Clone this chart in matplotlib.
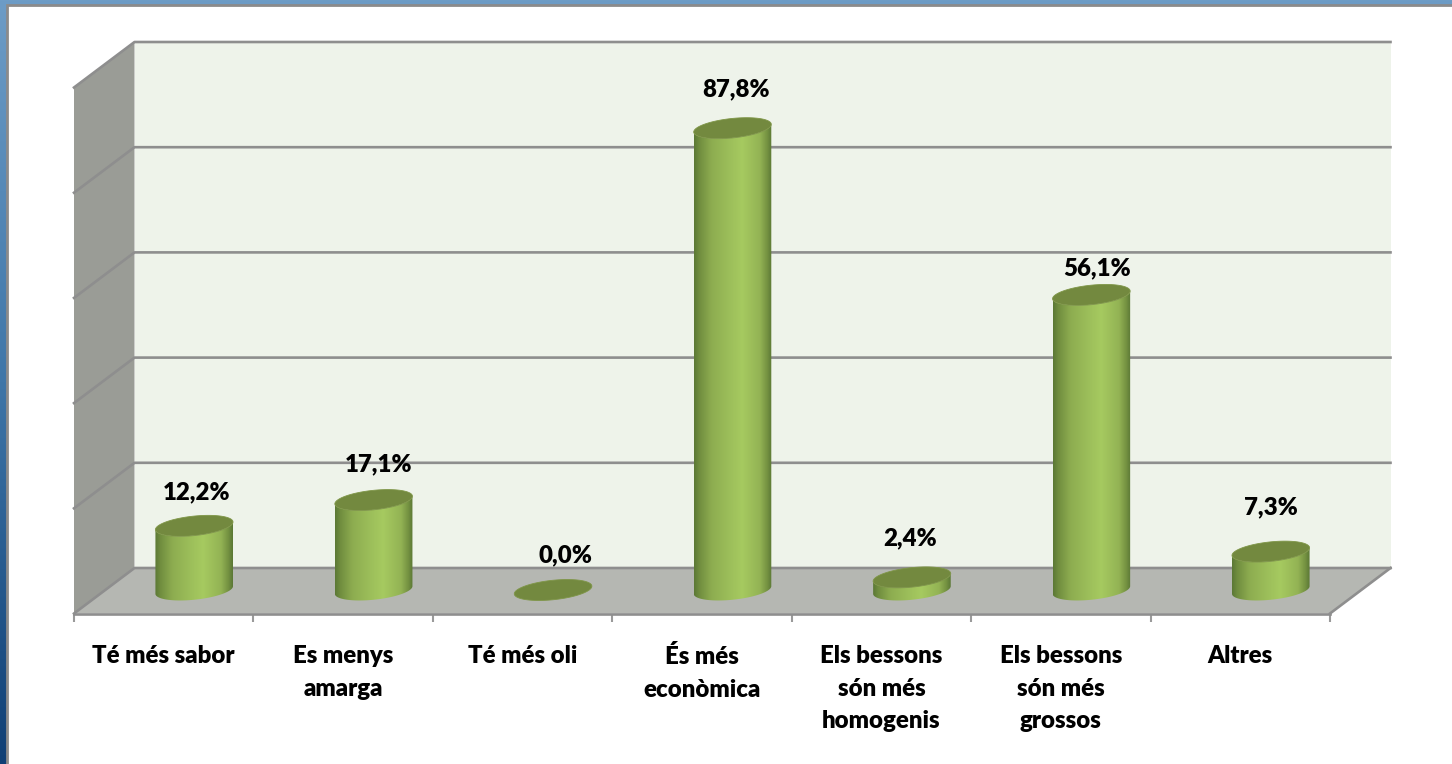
import numpy as np
import matplotlib
matplotlib.use("Agg")
import matplotlib.pyplot as plt
from matplotlib.colors import LinearSegmentedColormap
from matplotlib.patches import PathPatch, Polygon, Rectangle
from matplotlib.path import Path

categories = [
    "Té més sabor",
    "Es menys\namarga",
    "Té més oli",
    "És més\neconòmica",
    "Els bessons\nsón més\nhomogenis",
    "Els bessons\nsón més\ngrossos",
    "Altres",
]
values = [12.2, 17.1, 0.0, 87.8, 2.4, 56.1, 7.3]
grid_values = [0, 20, 40, 60, 80, 100]

# label nudges in pixels, from the top of each cylinder
label_dx = [2, 5, 12, 4, -2, 6, 0]
label_dy = [34, 36, 35, 39, 39, 27, 44]

W, H = 1452, 764
LEFT, RIGHT, FRONT_Y, TOP_Y = 74, 1330, 613.5, 87.5
DEPTH_X, DEPTH_Y = 60.5, 45.5
BASE_X, BASE_Y = 30.5, 23.5

PX_X = (RIGHT - LEFT) / len(categories)
PX_Y = (FRONT_Y - TOP_Y) / 100

fig = plt.figure(figsize=(W / 100, H / 100), dpi=100, facecolor="white")

# window frame behind the chart
bg = fig.add_axes([0, 0, 1, 1])
bg.axis("off")
frame_cmap = LinearSegmentedColormap.from_list(
    "frame", ["#6d9cc6", "#3f76a8", "#0f3f75"]
)
bg.imshow(
    np.linspace(0, 1, 256).reshape(-1, 1),
    extent=(0, W, H, 0),
    cmap=frame_cmap,
    aspect="auto",
)
bg.add_patch(Rectangle((7, 5), W, H, fc="white", ec="#8b8b8b", lw=2))
bg.set_xlim(0, W)
bg.set_ylim(H, 0)

ax = fig.add_axes([
    LEFT / W,
    1 - FRONT_Y / H,
    (RIGHT - LEFT) / W,
    (FRONT_Y - TOP_Y) / H,
])
ax.patch.set_alpha(0)

dx = DEPTH_X / PX_X
dy = DEPTH_Y / PX_Y
n = len(categories)

# 3D box: side wall, back wall, floor
ax.add_patch(Polygon(
    [(0, 0), (dx, dy), (dx, 100 + dy), (0, 100)],
    fc="#9a9c96", ec="none", clip_on=False, zorder=1,
))
ax.add_patch(Polygon(
    [(dx, dy), (n + dx, dy), (n + dx, 100 + dy), (dx, 100 + dy)],
    fc="#eef3ea", ec="none", clip_on=False, zorder=1,
))
ax.add_patch(Polygon(
    [(0, 0), (n, 0), (n + dx, dy), (dx, dy)],
    fc="#b5b7b2", ec="none", clip_on=False, zorder=1,
))

for g in grid_values:
    ax.plot(
        [0, dx, n + dx],
        [g, g + dy, g + dy],
        color="#8e8e8e",
        lw=1.9,
        clip_on=False,
        zorder=2,
    )
ax.plot([n, n + dx], [0, dy], color="#8e8e8e", lw=1.9, clip_on=False, zorder=2)

side_cmap = LinearSegmentedColormap.from_list(
    "side",
    [
        (0.0, "#5b7835"),
        (0.06, "#6f8c3e"),
        (0.22, "#8dac50"),
        (0.45, "#9cbe5a"),
        (0.62, "#a6ca60"),
        (0.85, "#93b354"),
        (0.95, "#728f40"),
        (1.0, "#5b7835"),
    ],
)

RX, RY, TILT = 39.0, 9.7, np.deg2rad(6)


def ellipse_px(t):
    x = RX * np.cos(t) * np.cos(TILT) - RY * np.sin(t) * np.sin(TILT)
    y = RX * np.cos(t) * np.sin(TILT) + RY * np.sin(t) * np.cos(TILT)
    return x, y


def draw_cylinder(pos, value):
    xc = pos + 0.5 + BASE_X / PX_X
    y0 = BASE_Y / PX_Y
    t = np.linspace(0, 2 * np.pi, 121)
    ex, ey = ellipse_px(t)
    ex = xc + ex / PX_X
    ey = ey / PX_Y

    # silhouette of the side runs between the left and right extremes
    i_r = np.argmax(ex)
    i_l = np.argmin(ex)
    chord = np.interp(ex, [ex[i_l], ex[i_r]], [ey[i_l], ey[i_r]])
    lower = np.where(ey <= chord)[0]
    lower = lower[np.argsort(ex[lower])]
    side_x = np.r_[ex[lower], ex[lower][::-1]]
    side_y = np.r_[ey[lower] + y0, ey[lower][::-1] + y0 + value]

    if value > 0:
        side = Path(np.column_stack([side_x, side_y]), closed=False)
        clip = PathPatch(side, transform=ax.transData, fc="none", ec="none")
        ax.add_patch(clip)
        im = ax.imshow(
            np.linspace(0, 1, 128).reshape(1, -1),
            extent=(ex[i_l], ex[i_r], y0 - 3, y0 + value + 3),
            cmap=side_cmap,
            aspect="auto",
            zorder=3,
        )
        im.set_clip_path(clip)

    ax.add_patch(Polygon(
        np.column_stack([ex, ey + y0 + value]),
        fc="#73893f",
        ec="#7f9648",
        lw=0.6,
        clip_on=False,
        zorder=4,
    ))


for i, v in enumerate(values):
    draw_cylinder(i, v)
    ax.text(
        i + 0.5 + (BASE_X + label_dx[i]) / PX_X,
        v + (BASE_Y + label_dy[i]) / PX_Y,
        f"{v:.1f}%".replace(".", ","),
        ha="center",
        va="center",
        fontsize=17.3,
        fontweight="heavy",
        family="Lato",
        color="black",
        zorder=5,
    )

ax.set_xlim(0, n)
ax.set_ylim(0, 100)

for side in ["top", "left", "right"]:
    ax.spines[side].set_visible(False)
ax.spines["bottom"].set_color("#8e8e8e")
ax.spines["bottom"].set_linewidth(1.9)
ax.spines["bottom"].set_zorder(2)

ax.set_yticks([])
ax.set_xticks(np.arange(n + 1))
ax.set_xticklabels([])
ax.tick_params(axis="x", which="major", length=6, width=1.5, color="#9a9a9a")
ax.set_xticks(np.arange(n) + 0.5, minor=True)
ax.set_xticklabels(
    categories,
    minor=True,
    fontsize=17.3,
    fontweight="heavy",
    family="Lato",
    linespacing=1.58,
)
ax.tick_params(axis="x", which="minor", length=0, pad=23)

fig.savefig("out.png", dpi=100)
